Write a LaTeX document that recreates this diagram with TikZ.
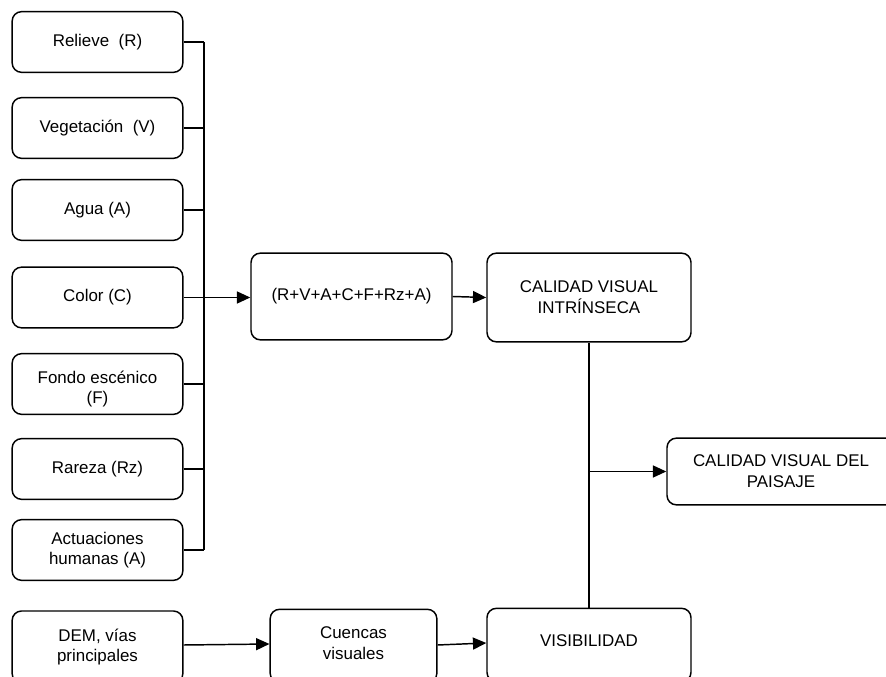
\documentclass[tikz,border=0pt]{standalone}
\usepackage{fontspec}
\setmainfont{Liberation Sans}
\usetikzlibrary{arrows.meta}

\begin{document}
\begin{tikzpicture}[x=0.75pt,y=-0.75pt,line width=1.1pt,>={Triangle[length=10pt,width=9pt]},
  caja/.style={draw,rounded corners=7pt,align=center,font=\fontsize{12.7}{15.5}\selectfont},
  factor/.style={caja,minimum width=128pt,minimum height=45.5pt},
  texto/.style={align=center,font=\fontsize{12.7}{15.5}\selectfont}]
\useasboundingbox (0,0) rectangle (886,677);

\node[factor] (relieve) at (97.5,42) {Relieve\ \ (R)};
\node[factor] (vegetacion) at (97.5,128) {Vegetación\ \ (V)};
\node[factor] (agua) at (97.5,210) {Agua (A)};
\node[factor] (color) at (97.5,297.5) {Color (C)};
\node[factor] (fondo) at (97.5,384) {};
\node[texto] (fondotxt) at (97.5,389) {Fondo escénico\\(F)};
\node[factor] (rareza) at (97.5,469) {Rareza (Rz)};
\node[factor] (actuaciones) at (97.5,550) {Actuaciones\\humanas (A)};

\coordinate (bustop) at (204,42);
\coordinate (busbot) at (204,550);
\draw (bustop) -- (busbot);
\foreach \f in {relieve,vegetacion,agua,fondo,rareza,actuaciones}
  \draw (\f.east) -- (\f.east -| bustop);

\node[caja,minimum width=150.75pt,minimum height=65pt] (formula) at (351.5,296.5) {(R+V+A+C+F+Rz+A)};
\node[caja,minimum width=153pt,minimum height=66.5pt] (intrinseca) at (589,297.5) {CALIDAD VISUAL\\INTRÍNSECA};
\node[caja,minimum width=171pt,minimum height=50pt] (paisaje) at (781,471.5) {CALIDAD VISUAL DEL\\PAISAJE};

\draw[->] (color.east) -- (color.east -| formula.west);
\draw[->] (formula.east) -- (intrinseca.west);

\node[caja,minimum width=128pt,minimum height=54pt] (dem) at (97.5,647) {DEM, vías\\principales};
\node[caja,minimum width=125pt,minimum height=55pt] (cuencas) at (353.5,646) {};
\node[texto] (cuencastxt) at (353.5,643) {Cuencas\\visuales};
\node[caja,minimum width=153pt,minimum height=55pt] (visibilidad) at (589,645) {};
\node[texto] (visibilidadtxt) at (589,641) {VISIBILIDAD};

\draw[->] (dem.east |- 0,645) -- (cuencas.west |- 0,644);
\draw[->] (cuencas.east |- 0,645) -- (visibilidad.west |- 0,643);

\draw (intrinseca.south) -- (visibilidad.north);
\coordinate (union) at (intrinseca.south |- paisaje.west);
\draw[->] (union) -- (paisaje.west);

\end{tikzpicture}
\end{document}
